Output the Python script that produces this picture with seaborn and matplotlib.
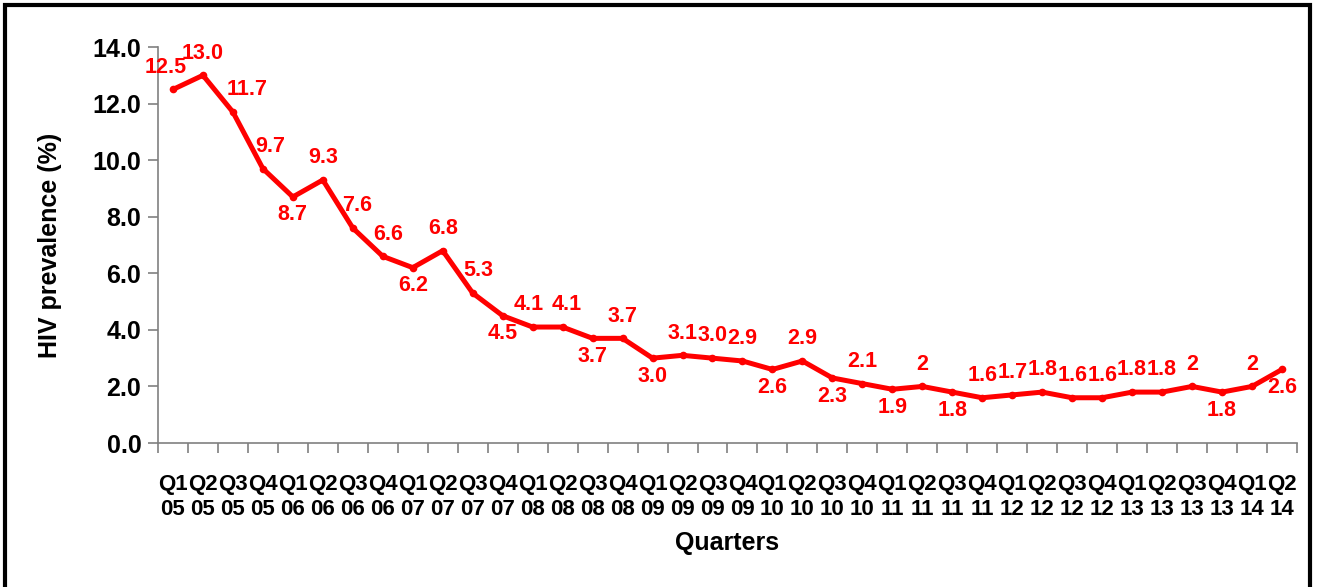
import matplotlib
matplotlib.use("Agg")
import matplotlib.pyplot as plt
import seaborn as sns
import pandas as pd
import numpy as np
from matplotlib.patches import Rectangle
from matplotlib.ticker import FixedLocator, FormatStrFormatter, MultipleLocator

quarters = ["Q1", "Q2", "Q3", "Q4"]
years = ["05", "06", "07", "08", "09", "10", "11", "12", "13", "14"]
labels = [f"{q}\n{y}" for y in years for q in quarters][:38]
prevalence = [12.5, 13.0, 11.7, 9.7, 8.7, 9.3, 7.6, 6.6, 6.2, 6.8,
              5.3, 4.5, 4.1, 4.1, 3.7, 3.7, 3.0, 3.1, 3.0, 2.9,
              2.6, 2.9, 2.3, 2.1, 1.9, 2.0, 1.8, 1.6, 1.7, 1.8,
              1.6, 1.6, 1.8, 1.8, 2.0, 1.8, 2.0, 2.6]
value_text = ["12.5", "13.0", "11.7", "9.7", "8.7", "9.3", "7.6", "6.6", "6.2", "6.8",
              "5.3", "4.5", "4.1", "4.1", "3.7", "3.7", "3.0", "3.1", "3.0", "2.9",
              "2.6", "2.9", "2.3", "2.1", "1.9", "2", "1.8", "1.6", "1.7", "1.8",
              "1.6", "1.6", "1.8", "1.8", "2", "1.8", "2", "2.6"]
# label placement: a = above, b = below
place = ["a", "a", "a", "a", "b", "a", "a", "a", "b", "a",
         "a", "b", "a", "a", "b", "a", "b", "a", "a", "a",
         "b", "a", "b", "a", "b", "a", "b", "a", "a", "a",
         "a", "a", "a", "a", "a", "b", "a", "b"]
shift_x = {0: -5, 2: 10, 3: 5, 6: 3, 7: 4, 10: 4, 12: -3, 13: 3}

df = pd.DataFrame({"pos": np.arange(len(prevalence)), "value": prevalence})

sns.set_style("white")
plt.rcParams["font.family"] = ["Liberation Sans", "DejaVu Sans"]
plt.rcParams["font.weight"] = "bold"
plt.rcParams["text.color"] = "black"
plt.rcParams["axes.labelcolor"] = "black"
plt.rcParams["xtick.labelcolor"] = "black"
plt.rcParams["ytick.labelcolor"] = "black"

fig = plt.figure(figsize=(13.21, 5.87), dpi=100)
ax = fig.add_axes([0.1196, 0.2453, 0.9818 - 0.1196, 0.9199 - 0.2453])
sns.lineplot(data=df, x="pos", y="value", ax=ax, color="#FF0000", linewidth=3.6,
             marker="o", markersize=5.5, markeredgewidth=0, sort=False)

for i, (v, t, p) in enumerate(zip(prevalence, value_text, place)):
    dy = 16 if p == "a" else -13
    ax.annotate(t, (i, v), xytext=(shift_x.get(i, 0), dy), textcoords="offset points",
                ha="center", va="center", color="#FF0000", fontsize=15.5, fontweight="bold")

ax.set_xlim(-0.5, len(prevalence) - 0.5)
ax.set_ylim(0, 14)
ax.yaxis.set_major_locator(MultipleLocator(2))
ax.yaxis.set_major_formatter(FormatStrFormatter("%.1f"))
ax.xaxis.set_major_locator(FixedLocator(np.arange(-0.5, len(prevalence), 1.0)))
ax.xaxis.set_major_formatter(plt.NullFormatter())
ax.set_xticks(np.arange(len(prevalence)), labels, minor=True)
ax.tick_params(axis="x", which="major", length=7, width=1.2, color="#808080", direction="out", bottom=True)
ax.tick_params(axis="x", which="minor", length=0, pad=22, labelsize=16, labelcolor="black")
ax.tick_params(axis="y", length=7, width=1.2, color="#808080", direction="out", left=True,
               labelsize=18, pad=5, labelcolor="black")
for lab in ax.get_xticklabels(minor=True) + ax.get_yticklabels():
    lab.set_fontweight("bold")
    lab.set_linespacing(1.25)

for s in ["top", "right"]:
    ax.spines[s].set_visible(False)
for s in ["left", "bottom"]:
    ax.spines[s].set_color("#808080")
    ax.spines[s].set_linewidth(1.2)

ax.set_xlabel("Quarters", fontsize=18, fontweight="bold", labelpad=8, color="black")
ax.set_ylabel("HIV prevalence (%)", fontsize=18, fontweight="bold", labelpad=22, color="black")

fig.add_artist(Rectangle((0.004, -0.05), 0.9877, 1.0415, transform=fig.transFigure,
                         fill=False, edgecolor="black", linewidth=3))

fig.savefig("out.png", dpi=100)
